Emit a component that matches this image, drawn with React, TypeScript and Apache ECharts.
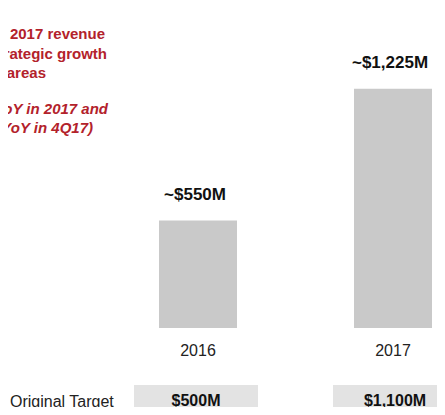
import React, { useEffect, useRef } from "react";
import * as echarts from "echarts";

const years = ["2016", "2017"];
const revenue = [550, 1225];
const revenueLabels = ["~$550M", "~$1,225M"];
const targets = [500, 1100];
const targetLabels = ["$500M", "$1,100M"];
const rowLabel = "Original Target";
const noteLines = ["2017 revenue", "rategic growth", "areas"];
const noteItalicLines = ["oY in 2017 and", "YoY in 4Q17)"];

export default function App() {
  const ref = useRef<HTMLDivElement>(null);
  useEffect(() => {
    if (!ref.current) return;
    const chart = echarts.init(ref.current, null, { renderer: "svg" });
    const red = "#b3222b";
    const font = "Liberation Sans, Arial, sans-serif";
    const noteRight = [105, 107, 46];
    const noteY = [33, 53, 72];
    const italRight = [108, 93];
    const italY = [108, 127];
    const graphics: any[] = [];
    noteLines.forEach((t, i) =>
      graphics.push({
        type: "text",
        x: noteRight[i],
        y: noteY[i],
        style: {
          text: t,
          fill: red,
          font: `bold 15px ${font}`,
          textAlign: "right",
          textVerticalAlign: "middle",
        },
      })
    );
    noteItalicLines.forEach((t, i) =>
      graphics.push({
        type: "text",
        x: italRight[i],
        y: italY[i],
        style: {
          text: t,
          fill: red,
          font: `italic bold 15px ${font}`,
          textAlign: "right",
          textVerticalAlign: "middle",
        },
      })
    );
    graphics.push({
      type: "text",
      x: 10,
      y: 401,
      style: {
        text: rowLabel,
        fill: "#222",
        font: `16px ${font}`,
        textAlign: "left",
        textVerticalAlign: "middle",
      },
    });

    chart.setOption({
      animation: false,
      backgroundColor: "#ffffff",
      textStyle: { fontFamily: font },
      grid: [
        { left: 198, right: 52, top: 35, height: 293 },
        { left: 196, right: 50, top: 385, height: 34 },
      ],
      xAxis: [
        {
          type: "category",
          gridIndex: 0,
          data: years,
          boundaryGap: false,
          axisLine: { show: false },
          axisTick: { show: false },
          axisLabel: { color: "#222", fontSize: 16, margin: 14, fontFamily: font },
        },
        {
          type: "category",
          gridIndex: 1,
          data: years,
          boundaryGap: false,
          show: false,
        },
      ],
      yAxis: [
        { type: "value", gridIndex: 0, min: 0, max: 1500, show: false, splitLine: { show: false } },
        { type: "value", gridIndex: 1, min: 0, max: 1, show: false, splitLine: { show: false } },
      ],
      graphic: graphics,
      series: [
        {
          type: "bar",
          xAxisIndex: 0,
          yAxisIndex: 0,
          barWidth: 78,
          data: revenue,
          itemStyle: { color: "#c9c9c9" },
          label: {
            show: true,
            position: "top",
            distance: 18,
            offset: [-3, 0],
            formatter: (p: any) => revenueLabels[p.dataIndex],
            color: "#111",
            fontSize: 17,
            fontWeight: "bold",
            fontFamily: font,
          },
        },
        {
          type: "bar",
          xAxisIndex: 1,
          yAxisIndex: 1,
          barWidth: 124,
          data: targets.map(() => 1),
          itemStyle: { color: "#e3e3e3" },
          label: {
            show: true,
            position: "inside",
            formatter: (p: any) => targetLabels[p.dataIndex],
            color: "#111",
            fontSize: 16,
            fontWeight: "bold",
            fontFamily: font,
          },
        },
      ],
    });
    return () => chart.dispose();
  }, []);
  return <div ref={ref} style={{ width: 445, height: 415, margin: -8 }} />;
}
